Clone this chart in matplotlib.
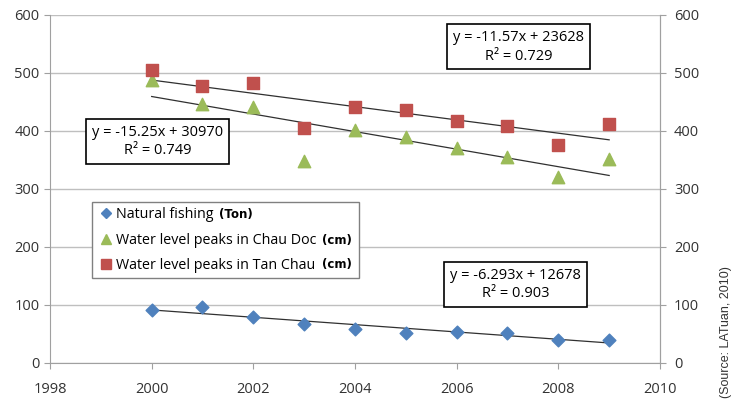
import numpy as np
import matplotlib
matplotlib.use("Agg")
import matplotlib.pyplot as plt
from matplotlib.lines import Line2D
from matplotlib.patches import Rectangle

years = [2000, 2001, 2002, 2003, 2004, 2005, 2006, 2007, 2008, 2009]
fishing = [91, 97, 80, 67, 58, 51, 54, 52, 40, 40]
chau_doc = [488, 447, 441, 349, 402, 390, 370, 356, 320, 351]
tan_chau = [505, 478, 482, 406, 442, 436, 417, 409, 376, 412]

eq_fishing = "y = -6.293x + 12678\nR\u00b2 = 0.903"
eq_chau_doc = "y = -15.25x + 30970\nR\u00b2 = 0.749"
eq_tan_chau = "y = -11.57x + 23628\nR\u00b2 = 0.729"

plt.rcParams['font.family'] = ['Open Sans', 'DejaVu Sans']

fig = plt.figure(figsize=(7.33, 4.03), dpi=100)
ax = fig.add_axes([50 / 733, 1 - 363 / 403, 610 / 733, 348 / 403])

c_blue = '#4F81BD'
c_green = '#9BBB59'
c_red = '#C0504D'

ax.scatter(years, fishing, marker='D', s=42, color=c_blue, zorder=3)
ax.scatter(years, chau_doc, marker='^', s=80, color=c_green, zorder=3)
ax.scatter(years, tan_chau, marker='s', s=80, color=c_red, zorder=3)

# linear trendlines
x = np.array(years, dtype=float)
for series in (fishing, chau_doc, tan_chau):
    k, b = np.polyfit(x, series, 1)
    ax.plot([x[0], x[-1]], [k * x[0] + b, k * x[-1] + b], color='#303030', lw=0.9, zorder=2)

ax.set_xlim(1998, 2010)
ax.set_ylim(0, 600)
ax.set_xticks(range(1998, 2011, 2))
ax.set_yticks(range(0, 601, 100))
ax.grid(axis='y', color='#BFBFBF', lw=1)
ax.set_axisbelow(True)
ax.spines['top'].set_visible(False)
for side in ('left', 'right', 'bottom'):
    ax.spines[side].set_color('#A0A0A0')
ax.tick_params(colors='#A0A0A0', labelcolor='#333333', labelsize=10.5, length=4)
ax.tick_params(axis='x', pad=10)

ax2 = ax.twinx()
ax2.set_ylim(0, 600)
ax2.set_yticks(range(0, 601, 100))
for side in ('top', 'left', 'bottom'):
    ax2.spines[side].set_visible(False)
ax2.spines['right'].set_color('#A0A0A0')
ax2.tick_params(colors='#A0A0A0', labelcolor='#333333', labelsize=10.5, length=4, pad=6)

box = dict(boxstyle='square,pad=0.4', facecolor='white', edgecolor='black', lw=1.2)
ax.text(2000.11, 382, eq_chau_doc, ha='center', va='center', fontsize=10.5,
        linespacing=1.3, bbox=box, zorder=5)
ax.text(2007.22, 545, eq_tan_chau, ha='center', va='center', fontsize=10.5,
        linespacing=1.3, bbox=box, zorder=5)
ax.text(2007.16, 135, eq_fishing, ha='center', va='center', fontsize=10.5,
        linespacing=1.3, bbox=box, zorder=5)

# legend frame drawn by hand so the bold units fit inside it
ax.add_patch(Rectangle((0.069, 0.2443), 0.4377, 0.2184, transform=ax.transAxes,
                       facecolor='white', edgecolor='#808080', lw=1.0, zorder=5))

handles = [
    Line2D([], [], marker='D', ls='none', color=c_blue, markersize=5),
    Line2D([], [], marker='^', ls='none', color=c_green, markersize=7),
    Line2D([], [], marker='s', ls='none', color=c_red, markersize=7),
]
labels = ["Natural fishing", "Water level peaks in Chau Doc", "Water level peaks in Tan Chau"]
leg = ax.legend(handles, labels, loc='center left', bbox_to_anchor=(0.083, 0.3534),
                fontsize=10.3, frameon=False, handlelength=0.8, handletextpad=0.3,
                borderpad=0, labelspacing=0.75, borderaxespad=0)
leg.set_zorder(6)

texts = leg.get_texts()
unit_kw = dict(textcoords='offset points', va='center', fontsize=8.5, fontweight='bold',
               family='DejaVu Sans', zorder=7)
ax.annotate("(Ton)", xy=(1, 0.5), xycoords=texts[0], xytext=(4, 0), **unit_kw)
ax.annotate("(cm)", xy=(1, 0.5), xycoords=texts[1], xytext=(4, 0), **unit_kw)
ax.annotate("(cm)", xy=(1, 0.6), xycoords=(texts[1], texts[2]), xytext=(4, 0), **unit_kw)

fig.text(0.991, 1 - 332 / 403, "(Source: LATuan, 2010)", rotation=90, ha='center', va='center',
         fontsize=9, family='Liberation Sans', color='#333333')

fig.savefig("out.png", dpi=100)
